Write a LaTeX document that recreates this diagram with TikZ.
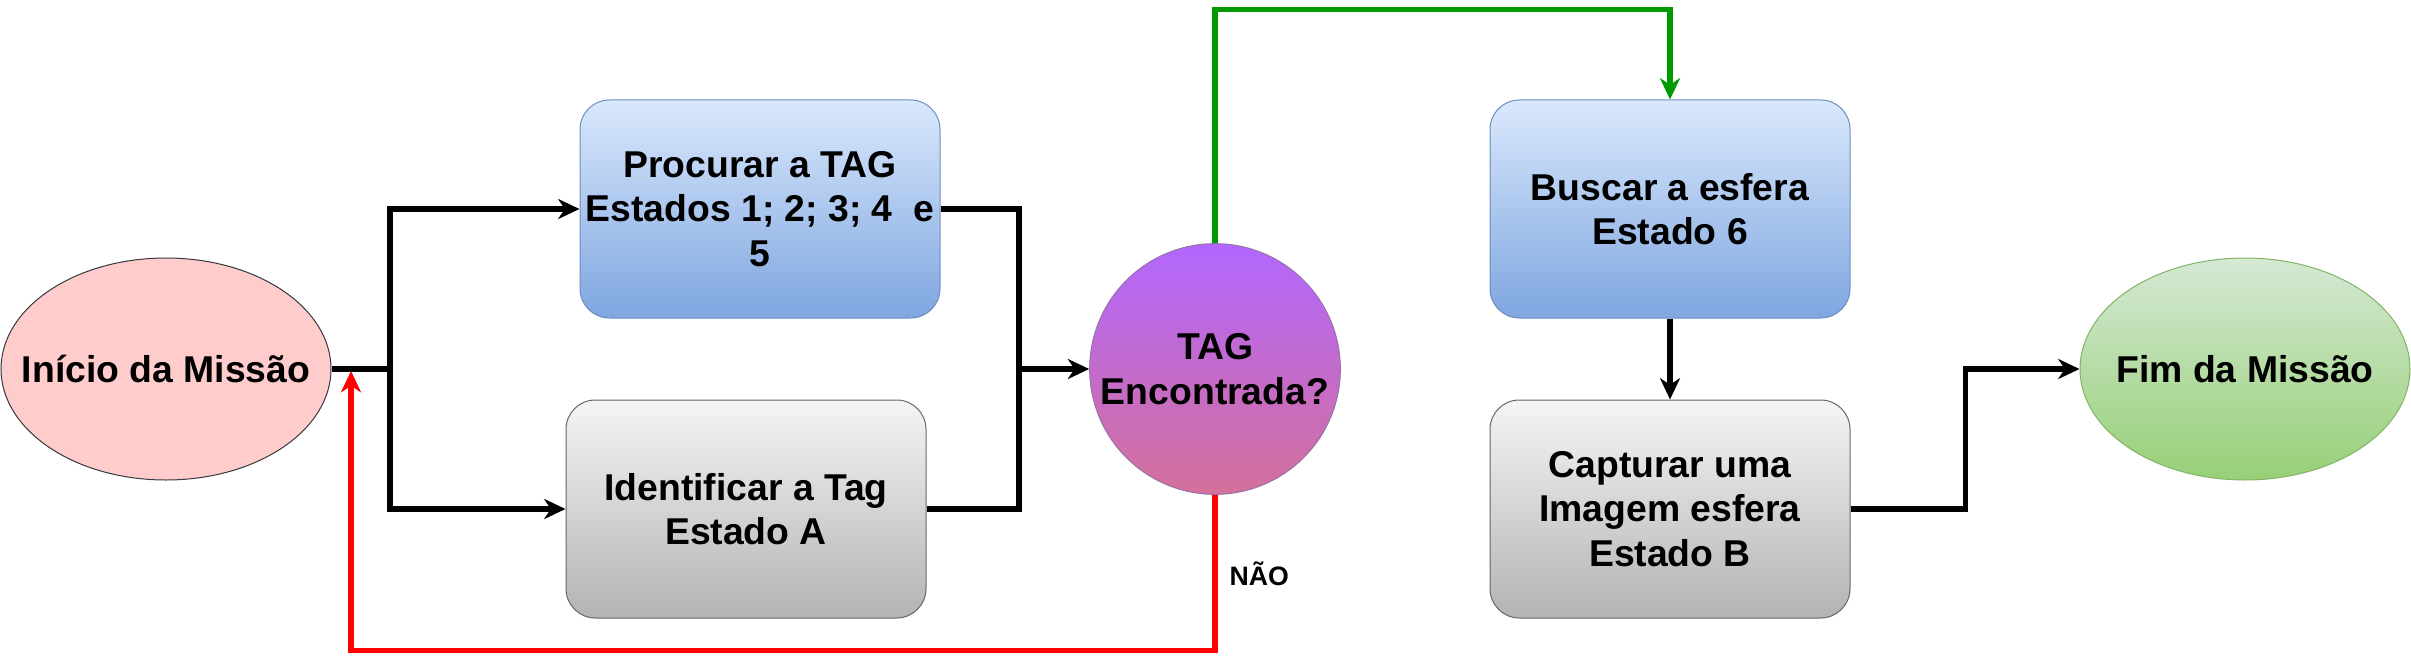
\documentclass[tikz,border=0pt]{standalone}
\usepackage{fontspec}
\setmainfont{Liberation Sans}
\usetikzlibrary{arrows.meta,shapes.geometric,calc}
\definecolor{blueTop}{HTML}{DAE8FC}
\definecolor{blueBot}{HTML}{7EA6E0}
\definecolor{blueLine}{HTML}{6C8EBF}
\definecolor{grayTop}{HTML}{F5F5F5}
\definecolor{grayBot}{HTML}{B3B3B3}
\definecolor{grayLine}{HTML}{666666}
\definecolor{pinkFill}{HTML}{FFCCCC}
\definecolor{pinkLine}{HTML}{36393D}
\definecolor{purpTop}{HTML}{B266FF}
\definecolor{purpBot}{HTML}{D4709A}
\definecolor{purpLine}{HTML}{9673A6}
\definecolor{greenTop}{HTML}{D5E8D4}
\definecolor{greenBot}{HTML}{97D077}
\definecolor{greenLine}{HTML}{82B366}
\definecolor{yesGreen}{HTML}{009900}
\definecolor{noRed}{HTML}{FF0000}
\tikzset{
  txt/.style={font=\fontsize{28}{33.5}\selectfont\bfseries, align=center, text=black},
  bluebox/.style={txt, rectangle, rounded corners=22pt, draw=blueLine, line width=0.75pt,
    top color=blueTop, bottom color=blueBot, minimum width=270pt, minimum height=163.5pt, inner sep=0pt},
  graybox/.style={txt, rectangle, rounded corners=22pt, draw=grayLine, line width=0.75pt,
    top color=grayTop, bottom color=grayBot, minimum width=270pt, minimum height=163.5pt, inner sep=0pt},
  startell/.style={txt, ellipse, draw=pinkLine, line width=0.75pt, fill=pinkFill,
    minimum width=247.5pt, minimum height=166.5pt, inner sep=0pt},
  endell/.style={txt, ellipse, draw=greenLine, line width=0.75pt, top color=greenTop, bottom color=greenBot,
    minimum width=247.5pt, minimum height=166.5pt, inner sep=0pt},
  decis/.style={txt, circle, draw=purpLine, line width=0.75pt, top color=purpTop, bottom color=purpBot,
    minimum size=188pt, inner sep=0pt},
  conn/.style={line width=3.8pt, -{Stealth[length=16pt,width=15pt,inset=5pt]}},
  plain/.style={line width=3.8pt},
  lbl/.style={font=\fontsize{20}{24}\selectfont\bfseries, text=black}
}
\begin{document}
\begin{tikzpicture}[x=0.75pt,y=-0.75pt]
\useasboundingbox (0,0) rectangle (2411,663);
\node[startell] (start) at (166,369) {\makebox[0pt]{Início da Missão}};
\node[bluebox] (proc) at (760,209) {Procurar a TAG\\Estados 1; 2; 3; 4 ~e\\5};
\node[graybox] (ident) at (746,509) {Identificar a Tag\\Estado A};
\node[decis] (tag) at (1215,369) {TAG\\Encontrada?};
\node[bluebox] (busc) at (1670,209) {Buscar a esfera\\Estado 6};
\node[graybox] (capt) at (1670,509) {Capturar uma\\Imagem esfera\\Estado B};
\node[endell] (fim) at (2245,369) {\makebox[0pt]{Fim da Missão}};
\node[lbl, anchor=west] (nao) at (1225,574) {NÃO};

\coordinate (split) at (390,369);
\coordinate (join) at (1019,369);
\coordinate (ret) at (351,371);

\draw[plain] (start.east) -- (split);
\draw[conn] (split) |- (proc.west);
\draw[conn] (split) |- (ident.west);
\draw[plain] (proc.east) -| (join);
\draw[plain] (ident.east) -| (join);
\draw[conn] (join) -- (tag.west);
\draw[conn, draw=yesGreen, -{Stealth[length=16pt,width=15pt,inset=5pt,fill=yesGreen]}] (tag.north) -- ++(0,-234) -| (busc.north);
\draw[conn, draw=noRed, -{Stealth[length=16pt,width=15pt,inset=5pt,fill=noRed]}] (tag.south) -- ++(0,156) -| (ret);
\draw[conn] (busc.south) -- (capt.north);
\draw[conn] (capt.east) -- ++(115,0) |- (fim.west);
\end{tikzpicture}
\end{document}
